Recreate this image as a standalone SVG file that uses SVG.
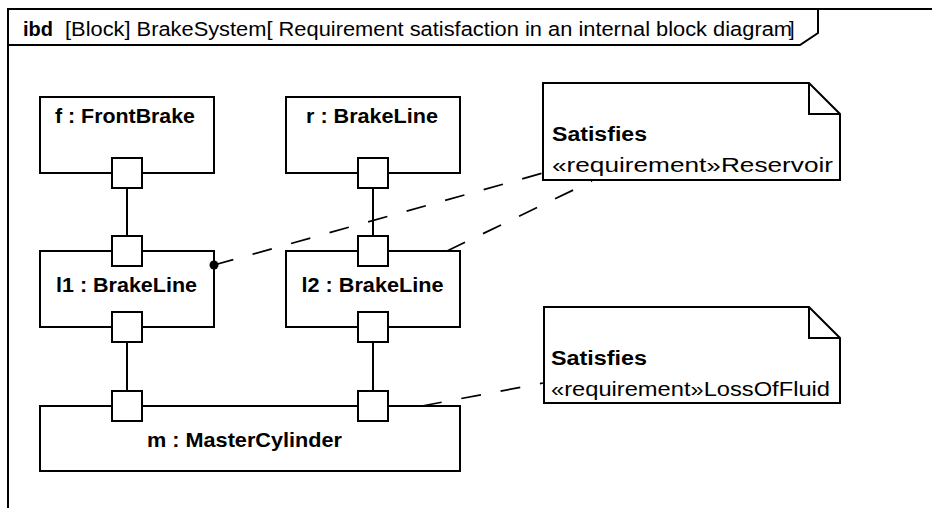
<svg xmlns="http://www.w3.org/2000/svg" width="932" height="508" viewBox="0 0 932 508">
<style>
text{font-family:"Liberation Sans",Arial,sans-serif;fill:#000}
.frame{fill:none;stroke:#000;stroke-width:2}
.blk{fill:#fff;stroke:#000;stroke-width:2}
.port{fill:#fff;stroke:#000;stroke-width:2}
.lbl{font-size:20.5px;font-weight:bold;text-anchor:middle}
.title{font-size:20px}
.nt{font-size:20px}
.b{font-weight:bold}
.note{fill:#fff;stroke:#000;stroke-width:2}
.fold{fill:none;stroke:#000;stroke-width:2}
.conn{fill:none;stroke:#000;stroke-width:2}
.dash{fill:none;stroke:#000;stroke-width:1.7;stroke-dasharray:20 20}
</style>
<rect width="932" height="508" fill="#fff"/>
<g id="frame">
<path class="frame" d="M8,520 L8,9 L940,9"/>
<path class="frame" d="M8,45 L800,45 L818,33 L818,9"/>
<text class="title b" x="23" y="36" textLength="30" lengthAdjust="spacingAndGlyphs">ibd</text>
<text class="title" x="65" y="36" textLength="727" lengthAdjust="spacingAndGlyphs">[Block] BrakeSystem[ Requirement satisfaction in an internal block diagram</text>
<text class="title" x="789" y="36">]</text>
</g>
<g id="f">
<rect class="blk" x="40" y="97" width="174" height="76"/>
<text class="lbl" x="125" y="123" textLength="140" lengthAdjust="spacingAndGlyphs">f : FrontBrake</text>
<rect class="port" x="112" y="158" width="30" height="30"/>
</g>
<g id="r">
<rect class="blk" x="286" y="97" width="174" height="76"/>
<text class="lbl" x="372" y="123" textLength="132" lengthAdjust="spacingAndGlyphs">r : BrakeLine</text>
<rect class="port" x="358" y="158" width="30" height="30"/>
</g>
<g id="l1">
<rect class="blk" x="40" y="251" width="174" height="76"/>
<text class="lbl" x="126.5" y="292" textLength="141" lengthAdjust="spacingAndGlyphs">l1 : BrakeLine</text>
<rect class="port" x="112" y="236" width="30" height="30"/>
<rect class="port" x="112" y="312" width="30" height="30"/>
</g>
<g id="l2">
<rect class="blk" x="286" y="251" width="174" height="76"/>
<text class="lbl" x="372.5" y="292" textLength="142" lengthAdjust="spacingAndGlyphs">l2 : BrakeLine</text>
<rect class="port" x="358" y="236" width="30" height="30"/>
<rect class="port" x="358" y="312" width="30" height="30"/>
</g>
<g id="m">
<rect class="blk" x="40" y="406" width="420" height="65"/>
<text class="lbl" x="244.5" y="447" textLength="195" lengthAdjust="spacingAndGlyphs">m : MasterCylinder</text>
<rect class="port" x="112" y="391" width="30" height="30"/>
<rect class="port" x="358" y="391" width="30" height="30"/>
</g>
<g id="note1">
<path class="note" d="M543,83 H809 L840,114 V180 H543 Z"/>
<path class="fold" d="M809,83 V114 H840"/>
<text class="nt b" x="552" y="141" textLength="95" lengthAdjust="spacingAndGlyphs">Satisfies</text>
<text class="nt" x="552" y="172" textLength="281" lengthAdjust="spacingAndGlyphs">«requirement»Reservoir</text>
</g>
<g id="note2">
<path class="note" d="M544,307 H809 L840,338 V403 H544 Z"/>
<path class="fold" d="M809,307 V338 H840"/>
<text class="nt b" x="551" y="365" textLength="96" lengthAdjust="spacingAndGlyphs">Satisfies</text>
<text class="nt" x="551" y="396" textLength="279" lengthAdjust="spacingAndGlyphs">«requirement»LossOfFluid</text>
</g>
<g id="connectors">
<path class="conn" d="M127,188 V236 M373,188 V236 M127,342 V391 M373,342 V391"/>
<path class="dash" d="M214,265 L543,173"/>
<circle cx="214" cy="265" r="4.5" fill="#000"/>
<path class="dash" d="M447,251 L592,181"/>
<path class="dash" d="M422,406 L543,383"/>
</g>
</svg>
